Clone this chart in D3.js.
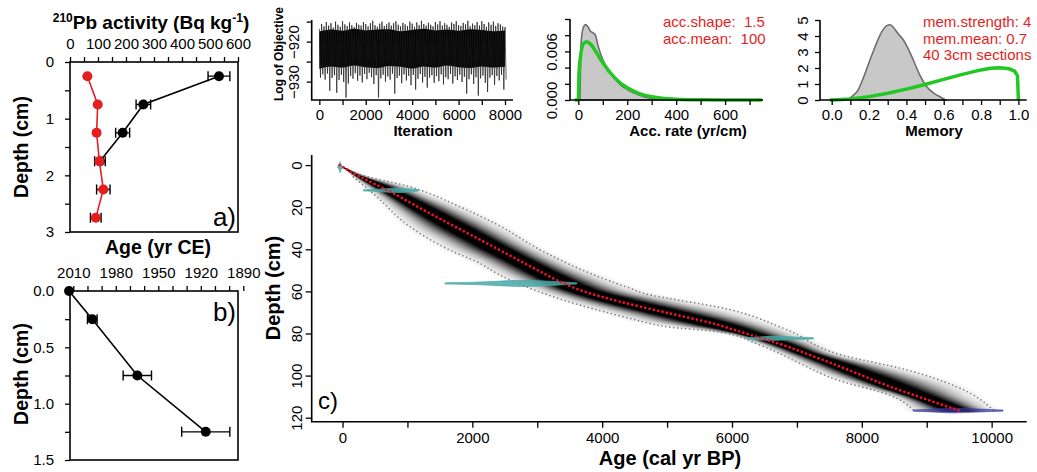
<!DOCTYPE html>
<html><head><meta charset="utf-8">
<script src="https://cdn.jsdelivr.net/npm/d3@7"></script>
<style>body{margin:0;background:#fff}</style>
</head><body>
<svg id="chart" width="1037" height="472"></svg>
<script>
// ---------- DATA ----------
// panel a: 210Pb activity
const pbTotalDepth = [0.25, 0.75, 1.25, 1.75];
const pbTotal = [532, 262, 188, 107];
const pbTotalErr = [39, 26, 25, 19];
const pbSuppDepth = [0.25, 0.75, 1.25, 1.75, 2.25, 2.75];
const pbSupp = [62, 99, 95, 105, 119, 92];
const pbSuppErr = [0, 0, 0, 0, 24, 19];
const pbTicks = [0, 100, 200, 300, 400, 500, 600];
// panel b: CRS ages
const crsDepth = [0, 0.25, 0.75, 1.25];
const crsAge = [2013, 1996.6, 1964.8, 1916.5];
const crsErr = [0, 3.4, 10, 17];
const crsTicks = [2010, 1980, 1950, 1920, 1890];
// MCMC trace (per 100-iteration bins: highest / lowest value)
const traceHigh = [-916.8,-915.6,-916.2,-915.1,-916.0,-915.4,-916.5,-915.0,-915.8,-916.3,
-914.9,-915.7,-916.1,-915.2,-915.9,-916.4,-915.3,-915.8,-916.0,-915.1,
-915.6,-916.2,-915.4,-914.8,-915.9,-916.3,-915.5,-915.0,-916.1,-915.7,
-915.2,-916.0,-915.4,-914.9,-915.8,-916.2,-915.3,-915.7,-916.1,-915.0,
-915.5,-916.3,-915.2,-915.9,-914.8,-915.6,-916.0,-915.3,-915.8,-916.2,
-915.1,-915.7,-914.9,-916.0,-915.4,-915.8,-916.3,-915.2,-915.6,-914.9,
-915.9,-916.1,-915.3,-915.7,-914.8,-916.2,-915.5,-915.9,-915.1,-916.0,
-914.9,-915.6,-916.3,-915.2,-915.8,-915.0,-916.1,-915.4,-915.7,-916.2,-916.4];
const traceLow = [-929.0,-928.2,-929.5,-928.0,-932.3,-929.1,-928.4,-932.8,-929.6,-928.3,
-930.1,-934.0,-930.5,-928.6,-929.3,-927.9,-929.8,-928.5,-930.2,-928.1,
-929.4,-927.8,-928.9,-930.6,-928.4,-934.0,-929.2,-928.3,-930.0,-928.7,
-929.5,-928.0,-933.0,-929.1,-928.5,-930.4,-928.2,-929.7,-928.6,-930.9,
-928.3,-932.0,-929.3,-928.1,-930.2,-928.8,-931.5,-929.0,-928.4,-930.3,
-928.6,-929.9,-928.2,-930.7,-928.9,-929.4,-928.1,-930.5,-928.7,-929.6,
-928.3,-930.1,-928.8,-933.0,-929.4,-928.2,-930.6,-928.9,-933.5,-929.2,
-928.5,-930.3,-932.6,-929.0,-928.4,-930.8,-928.6,-929.7,-928.3,-932.0,-929.5];
// dense core of the trace, per 500 iterations
const coreTop = [-917.5,-917.0,-917.3,-916.8,-917.2,-917.0,-916.9,-917.4,-917.1,-916.8,-917.2,-917.0,-917.3,-916.9,-917.1,-917.4,-917.2];
const coreBottom = [-926.8,-926.2,-926.5,-926.0,-926.4,-926.6,-926.1,-926.3,-926.7,-926.2,-926.5,-926.0,-926.4,-926.6,-926.2,-926.5,-926.3];
// accumulation rate: posterior (grey) and prior (green)
const accPostX = [7, 10, 15, 20, 30, 40, 50, 60, 70, 80, 90, 100, 125, 150, 175, 200, 250, 300, 350, 400, 500];
const accPostY = [0, 0.0060, 0.0082, 0.0089, 0.0093, 0.0090, 0.0085, 0.0083, 0.0080, 0.0068, 0.0058, 0.0050, 0.0036, 0.0026, 0.0018, 0.0013, 0.0006, 0.0002, 0.0001, 0.00004, 0];
const accPriorX = [-14, 0, 3, 10, 20, 34, 50, 75, 100, 150, 200, 250, 300, 400, 500, 600, 750];
const accPriorY = [0, 0, 0.0034, 0.0056, 0.0069, 0.0072, 0.0069, 0.0058, 0.0046, 0.0027, 0.0015, 0.0008, 0.0004, 0.0001, 0.00003, 0.00001, 0];
// memory: posterior (grey) and prior (green)
const memPostX = [0.07, 0.10, 0.14, 0.17, 0.205, 0.24, 0.27, 0.295, 0.312, 0.33, 0.355, 0.384, 0.41, 0.437, 0.47, 0.509, 0.55, 0.58, 0.61];
const memPostY = [0, 0.15, 0.6, 1.4, 2.5, 3.55, 4.3, 4.65, 4.7, 4.55, 4.15, 3.75, 3.2, 2.5, 1.6, 0.83, 0.4, 0.2, 0];
const memPriorX = [-0.01, 0, 0.1, 0.2, 0.3, 0.4, 0.5, 0.6, 0.7, 0.8, 0.85, 0.9, 0.95, 0.98, 0.995, 1.0];
const memPriorY = [0, 0.005, 0.06, 0.21, 0.42, 0.68, 0.97, 1.29, 1.6, 1.88, 1.98, 2.02, 1.95, 1.8, 1.52, 0];
// age-depth model
const modelDepth = [0, 5, 10, 15, 20, 25, 30, 35, 40, 45, 50, 55, 60, 65, 70, 75, 80, 85, 90, 95, 100, 105, 110, 115, 117];
const modelMean = [-45, 237, 562, 876, 1168, 1470, 1779, 2089, 2397, 2703, 3010, 3326, 3716, 4289, 4975, 5676, 6212, 6737, 7181, 7605, 8011, 8411, 8873, 9344, 9530];
const maxLineAge = [-45, 166, 219, 1040, 1810, 2350, 3146, 3814, 4430, 4738, 5020, 5766, 6792, 7666, 8693, 9464, 10028];
const maxLineDepth = [0, 3.2, 3.9, 10.3, 19.8, 27.7, 41.9, 51.4, 58.5, 61.7, 63.3, 67.3, 77.5, 90, 97.3, 105.3, 116.3];
const minLineAge = [-45, 166, 527, 1040, 1656, 2119, 2376, 2889, 3659, 4430, 4738, 4995, 5766, 6433, 7049, 7615, 8436, 8795];
const minLineDepth = [0, 5.6, 15, 29.3, 40.4, 46.7, 51.4, 58.5, 66.5, 72.8, 75.2, 76.8, 79.1, 85.5, 94.2, 102, 109.3, 116.3];
// calibrated dates: ages and relative probability
const date0Age = [-75, -55, -42, -35, -28, -15, 5];
const date0Prob = [0, 0.3, 0.8, 1, 0.7, 0.2, 0];
const date1Age = [320, 420, 520, 620, 720, 820, 920, 1020, 1100, 1168];
const date1Prob = [0, 0.15, 0.3, 0.55, 0.85, 1, 0.9, 0.7, 0.4, 0];
const date2Age = [1580, 1800, 2000, 2200, 2400, 2600, 2800, 3000, 3200, 3400, 3609];
const date2Prob = [0, 0.08, 0.2, 0.4, 0.65, 0.9, 1, 0.85, 0.6, 0.3, 0];
const date3Age = [6228, 6400, 6600, 6800, 7000, 7254];
const date3Prob = [0, 0.5, 1, 0.8, 0.45, 0];
const date4Age = [8795, 9000, 9200, 9400, 9600, 9800, 10000, 10175];
const date4Prob = [0, 0.3, 0.7, 1, 0.8, 0.5, 0.2, 0];
const dateDepths = [1, 12, 56.2, 82.3, 116.6];

// ---------- DRAWING ----------
const FONT = '"Liberation Sans", Arial, Helvetica, sans-serif';
const RED = "#e41e1e", GREEN = "#22c822";
const svg = d3.select("#chart").attr("font-family", FONT);

function styleAxis(g, fs) {
  g.attr("font-family", FONT).attr("font-size", fs || 15);
  g.select(".domain").remove();
  g.selectAll(".tick line").attr("stroke", "#000").attr("stroke-width", 1.3);
  g.selectAll(".tick text").attr("fill", "#000");
  return g;
}
function rotateLabels(g, off) {
  g.selectAll(".tick text").attr("x", 0).attr("dy", 0).attr("text-anchor", "middle")
    .attr("transform", `translate(${-off},0) rotate(-90)`);
}
function lShape(x0, x1, y0, y1) {
  svg.append("path").attr("d", `M${x0},${y0}V${y1}H${x1}`).attr("fill", "none")
    .attr("stroke", "#000").attr("stroke-width", 1.6);
}

// ===== Panel a =====
const aX = d3.scaleLinear([0, 600], [70, 238]);
const aY = d3.scaleLinear([0, 3], [62, 232]);
styleAxis(svg.append("g").attr("transform", "translate(0,62)")
  .call(d3.axisTop(aX).tickValues(d3.range(0, 601, 50)).tickFormat(d => pbTicks.includes(d) ? d : "").tickSize(5).tickPadding(8.5)));
styleAxis(svg.append("g").attr("transform", "translate(70,0)")
  .call(d3.axisLeft(aY).tickValues(d3.range(0, 3.01, 0.5)).tickFormat(d => Number.isInteger(d) ? d : "").tickSize(5).tickPadding(11)));
svg.append("rect").attr("x", 70).attr("y", 62).attr("width", 168).attr("height", 170)
  .attr("fill", "none").attr("stroke", "#000").attr("stroke-width", 1.6);

function pbSeries(depths, vals, errs, color) {
  const pts = depths.map((d, i) => ({d, v: vals[i], e: errs[i]}));
  svg.append("path").datum(pts).attr("fill", "none").attr("stroke", color).attr("stroke-width", 1.6)
    .attr("d", d3.line().x(p => aX(p.v)).y(p => aY(p.d)));
  pts.filter(p => p.e > 0).forEach(p => {
    const y = aY(p.d), xa = aX(p.v - p.e), xb = aX(p.v + p.e);
    svg.append("path").attr("d", `M${xa},${y}H${xb}M${xa},${y - 5}V${y + 5}M${xb},${y - 5}V${y + 5}`)
      .attr("stroke", "#000").attr("stroke-width", 1.4).attr("fill", "none");
  });
  svg.selectAll(null).data(pts).enter().append("circle")
    .attr("cx", p => aX(p.v)).attr("cy", p => aY(p.d)).attr("r", 5).attr("fill", color);
}
pbSeries(pbTotalDepth, pbTotal, pbTotalErr, "#000");
pbSeries(pbSuppDepth, pbSupp, pbSuppErr, RED);

const tA = svg.append("text").attr("x", 151).attr("y", 28.5).attr("text-anchor", "middle")
  .attr("font-size", 19).attr("font-weight", "bold");
tA.append("tspan").attr("font-size", 12).attr("dy", -7).text("210");
tA.append("tspan").attr("dy", 7).text("Pb activity (Bq kg");
tA.append("tspan").attr("font-size", 12).attr("dy", -7).text("-1");
tA.append("tspan").attr("dy", 7).text(")");
svg.append("text").attr("transform", "translate(27.5,147) rotate(-90)").attr("text-anchor", "middle")
  .attr("font-size", 19.5).attr("font-weight", "bold").text("Depth (cm)");
svg.append("text").attr("x", 236).attr("y", 226).attr("text-anchor", "end").attr("font-size", 26).text("a)");

// ===== Panel b =====
const bX = d3.scaleLinear([2010, 1890], [73.3, 243.3]);
const bY = d3.scaleLinear([0, 1.5], [291, 460]);
styleAxis(svg.append("g").attr("transform", "translate(0,291)")
  .call(d3.axisTop(bX).tickValues(d3.range(2010, 1889, -10)).tickFormat(d => crsTicks.includes(d) ? d : "").tickSize(5).tickPadding(8)));
styleAxis(svg.append("g").attr("transform", "translate(70,0)")
  .call(d3.axisLeft(bY).tickValues(d3.range(0, 1.51, 0.25)).tickFormat(d => (d * 2) % 1 === 0 ? d3.format(".1f")(d) : "").tickSize(5).tickPadding(11)));
svg.append("rect").attr("x", 70).attr("y", 291).attr("width", 168).attr("height", 169)
  .attr("fill", "none").attr("stroke", "#000").attr("stroke-width", 1.6);
const crsPts = crsDepth.map((d, i) => ({d, a: crsAge[i], e: crsErr[i]}));
svg.append("path").datum(crsPts).attr("fill", "none").attr("stroke", "#000").attr("stroke-width", 1.6)
  .attr("d", d3.line().x(p => bX(p.a)).y(p => bY(p.d)));
crsPts.filter(p => p.e > 0).forEach(p => {
  const y = bY(p.d), xa = bX(p.a - p.e), xb = bX(p.a + p.e);
  svg.append("path").attr("d", `M${xa},${y}H${xb}M${xa},${y - 5}V${y + 5}M${xb},${y - 5}V${y + 5}`)
    .attr("stroke", "#000").attr("stroke-width", 1.4).attr("fill", "none");
});
svg.selectAll(null).data(crsPts).enter().append("circle")
  .attr("cx", p => bX(p.a)).attr("cy", p => bY(p.d)).attr("r", 5).attr("fill", "#000");
svg.append("text").attr("x", 158).attr("y", 254).attr("text-anchor", "middle")
  .attr("font-size", 19.5).attr("font-weight", "bold").text("Age (yr CE)");
svg.append("text").attr("transform", "translate(27.5,374) rotate(-90)").attr("text-anchor", "middle")
  .attr("font-size", 19.5).attr("font-weight", "bold").text("Depth (cm)");
svg.append("text").attr("x", 236).attr("y", 321).attr("text-anchor", "end").attr("font-size", 26).text("b)");

// ===== Trace panel =====
const tX = d3.scaleLinear([-329, 8345], [311.7, 513]);
const tY = d3.scaleLinear([-934.6, -914.6], [100, 20]);
const corePts = coreTop.map((v, i) => ({i: i * 500, t: v, b: coreBottom[i]}));
svg.append("path").datum(corePts).attr("fill", "#000")
  .attr("d", d3.area().x(p => tX(p.i)).y0(p => tY(p.b)).y1(p => tY(p.t)).curve(d3.curveMonotoneX));
const zig = [];
traceHigh.forEach((h, i) => { zig.push([i * 100, h]); zig.push([i * 100 + 50, traceLow[i]]); });
svg.append("path").datum(zig).attr("fill", "none").attr("stroke", "#1a1a1a").attr("stroke-width", 0.7)
  .attr("d", d3.line().x(p => tX(p[0])).y(p => tY(p[1])));
lShape(311.7, 513, 20, 100);
styleAxis(svg.append("g").attr("transform", "translate(0,100)")
  .call(d3.axisBottom(tX).tickValues(d3.range(0, 8001, 1000)).tickFormat(d => d % 2000 === 0 ? d : "").tickSize(5).tickPadding(4.5)));
const tyAx = styleAxis(svg.append("g").attr("transform", "translate(311.7,0)")
  .call(d3.axisLeft(tY).tickValues([-930, -925, -920, -915]).tickFormat(d => d % 10 === 0 ? "\u2212" + Math.abs(d) : "").tickSize(5)));
rotateLabels(tyAx, 13);
svg.append("text").attr("x", 423).attr("y", 136).attr("text-anchor", "middle")
  .attr("font-size", 15).attr("font-weight", "bold").text("Iteration");
svg.append("text").attr("transform", "translate(283,54) rotate(-90)").attr("text-anchor", "middle")
  .attr("font-size", 12).attr("font-weight", "bold").text("Log of Objective");

// ===== Acc. rate panel =====
const accX = d3.scaleLinear([-34, 755], [570, 763]);
const accY = d3.scaleLinear([0, 0.01], [100, 19]);
const accPost = accPostX.map((x, i) => [x, accPostY[i]]);
svg.append("path").datum(accPost).attr("fill", "#c8c8c8").attr("stroke", "#6e6e6e").attr("stroke-width", 1.6)
  .attr("d", d3.area().x(p => accX(p[0])).y0(accY(0)).y1(p => accY(p[1])).curve(d3.curveMonotoneX));
const accPrior = accPriorX.map((x, i) => [x, accPriorY[i]]);
svg.append("path").datum(accPrior).attr("fill", "none").attr("stroke", GREEN).attr("stroke-width", 3.5)
  .attr("d", d3.line().x(p => accX(p[0])).y(p => accY(p[1])).curve(d3.curveMonotoneX));
lShape(570, 763, 19, 100);
styleAxis(svg.append("g").attr("transform", "translate(0,100)")
  .call(d3.axisBottom(accX).tickValues(d3.range(0, 701, 100)).tickFormat(d => d % 200 === 0 ? d : "").tickSize(5).tickPadding(4.5)));
const ayAx = styleAxis(svg.append("g").attr("transform", "translate(570,0)")
  .call(d3.axisLeft(accY).tickValues([0, 0.002, 0.004, 0.006, 0.008, 0.01]).tickFormat(d => (Math.abs(d) < 1e-9 || Math.abs(d - 0.006) < 1e-9) ? d3.format(".3f")(d) : "").tickSize(5)));
rotateLabels(ayAx, 13);
svg.append("text").attr("x", 688).attr("y", 136).attr("text-anchor", "middle")
  .attr("font-size", 15).attr("font-weight", "bold").text("Acc. rate (yr/cm)");
svg.append("text").attr("x", 663).attr("y", 27).attr("font-size", 15).attr("fill", RED).attr("xml:space", "preserve").text("acc.shape:  1.5");
svg.append("text").attr("x", 663).attr("y", 43.5).attr("font-size", 15).attr("fill", RED).attr("xml:space", "preserve").text("acc.mean:  100");

// ===== Memory panel =====
const memX = d3.scaleLinear([-0.0627, 1.0445], [820, 1026.7]);
const memY = d3.scaleLinear([0, 5], [100, 20]);
const memPost = memPostX.map((x, i) => [x, memPostY[i]]);
svg.append("path").datum(memPost).attr("fill", "#c8c8c8").attr("stroke", "#6e6e6e").attr("stroke-width", 1.6)
  .attr("d", d3.area().x(p => memX(p[0])).y0(memY(0)).y1(p => memY(p[1])).curve(d3.curveMonotoneX));
const memPrior = memPriorX.map((x, i) => [x, memPriorY[i]]);
svg.append("path").datum(memPrior).attr("fill", "none").attr("stroke", GREEN).attr("stroke-width", 3.5)
  .attr("d", d3.line().x(p => memX(p[0])).y(p => memY(p[1])).curve(d3.curveLinear));
lShape(820, 1026.7, 20, 100);
styleAxis(svg.append("g").attr("transform", "translate(0,100)")
  .call(d3.axisBottom(memX).tickValues(d3.range(0, 1.001, 0.1)).tickFormat(d => Math.round(d * 10) % 2 === 0 ? d3.format(".1f")(d) : "").tickSize(5).tickPadding(4.5)));
const myAx = styleAxis(svg.append("g").attr("transform", "translate(820,0)")
  .call(d3.axisLeft(memY).tickValues([0, 1, 2, 3, 4, 5]).tickFormat(d3.format("d")).tickSize(5)));
rotateLabels(myAx, 12);
svg.append("text").attr("x", 934).attr("y", 136).attr("text-anchor", "middle")
  .attr("font-size", 15).attr("font-weight", "bold").text("Memory");
svg.append("text").attr("x", 923).attr("y", 27).attr("font-size", 15).attr("fill", RED).text("mem.strength: 4");
svg.append("text").attr("x", 923).attr("y", 43.5).attr("font-size", 15).attr("fill", RED).text("mem.mean: 0.7");
svg.append("text").attr("x", 923).attr("y", 60).attr("font-size", 15).attr("fill", RED).text("40 3cm sections");

// ===== Main age-depth panel =====
const cX = d3.scaleLinear([-475, 10540], [311.7, 1026.7]);
const cY = d3.scaleLinear([-4.8, 121.9], [155, 421.7]);
const maxAt = d3.scaleLinear(maxLineDepth, maxLineAge).clamp(true);
const minAt = d3.scaleLinear(minLineDepth, minLineAge).clamp(true);
const model = modelDepth.map((d, i) => ({d, m: modelMean[i],
  up: Math.max(0, maxAt(d) - modelMean[i]), dn: Math.max(0, modelMean[i] - minAt(d))}));
// grey-scale probability cloud (outer, light -> inner, dark)
const N = 26, SIG = 0.42;
const cloud = svg.append("g");
for (let k = 0; k < N; k++) {
  const r = 1.15 * (1 - k / N);
  const o = Math.min(1, 1.3 * Math.exp(-r * r / (2 * SIG * SIG)));
  const g = Math.round(255 * (1 - o));
  cloud.append("path").datum(model).attr("fill", `rgb(${g},${g},${g})`)
    .attr("d", d3.area().y(p => cY(p.d)).x0(p => cX(p.m - r * p.dn)).x1(p => cX(p.m + r * p.up)).curve(d3.curveMonotoneY));
}
function dottedLine(ages, depths, color, w, dash) {
  const pts = ages.map((a, i) => [a, depths[i]]).slice(1);
  svg.append("path").datum(pts).attr("fill", "none").attr("stroke", color).attr("stroke-width", w)
    .attr("stroke-linecap", "round").attr("stroke-dasharray", dash)
    .attr("d", d3.line().x(p => cX(p[0])).y(p => cY(p[1])).curve(d3.curveMonotoneY));
}
dottedLine(maxLineAge, maxLineDepth, "#808080", 1.7, "0,4");
dottedLine(minLineAge, minLineDepth, "#808080", 1.7, "0,4");
function drawDate(ages, probs, depth, h, color, op) {
  const pts = ages.map((a, i) => [a, probs[i]]);
  svg.append("path").datum(pts).attr("fill", color).attr("fill-opacity", op).attr("stroke", color).attr("stroke-width", 0.8)
    .attr("stroke-opacity", op)
    .attr("d", d3.area().x(p => cX(p[0])).y0(p => cY(depth) - p[1] * h - 0.6).y1(p => cY(depth) + p[1] * h + 0.6).curve(d3.curveMonotoneX));
}
const TEAL = "#4aa8a8";
drawDate(date0Age, date0Prob, dateDepths[0], 5, TEAL, 0.85);
drawDate(date1Age, date1Prob, dateDepths[1], 1.6, TEAL, 0.85);
drawDate(date2Age, date2Prob, dateDepths[2], 2.5, TEAL, 0.85);
drawDate(date3Age, date3Prob, dateDepths[3], 1.4, TEAL, 0.85);
drawDate(date4Age, date4Prob, dateDepths[4], 1.8, "#3a3aa0", 0.7);
svg.append("path").datum(model).attr("fill", "none").attr("stroke", "#f0102a").attr("stroke-width", 2.8)
  .attr("stroke-linecap", "round").attr("stroke-dasharray", "0,4.4")
  .attr("d", d3.line().x(p => cX(p.m)).y(p => cY(p.d)).curve(d3.curveMonotoneY));
lShape(311.7, 1026.7, 155, 421.7);
styleAxis(svg.append("g").attr("transform", "translate(0,421.7)")
  .call(d3.axisBottom(cX).tickValues(d3.range(0, 10001, 1000)).tickFormat(d => d % 2000 === 0 ? d : "").tickSize(6).tickPadding(5)));
const cyAx = styleAxis(svg.append("g").attr("transform", "translate(311.7,0)")
  .call(d3.axisLeft(cY).tickValues(d3.range(0, 121, 20)).tickFormat(d3.format("d")).tickSize(6)));
rotateLabels(cyAx, 10.2);
svg.append("text").attr("x", 670).attr("y", 465).attr("text-anchor", "middle")
  .attr("font-size", 20).attr("font-weight", "bold").text("Age (cal yr BP)");
svg.append("text").attr("transform", "translate(279.5,288) rotate(-90)").attr("text-anchor", "middle")
  .attr("font-size", 20).attr("font-weight", "bold").text("Depth (cm)");
svg.append("text").attr("x", 318).attr("y", 409).attr("font-size", 24).text("c)");
</script>
</body></html>
